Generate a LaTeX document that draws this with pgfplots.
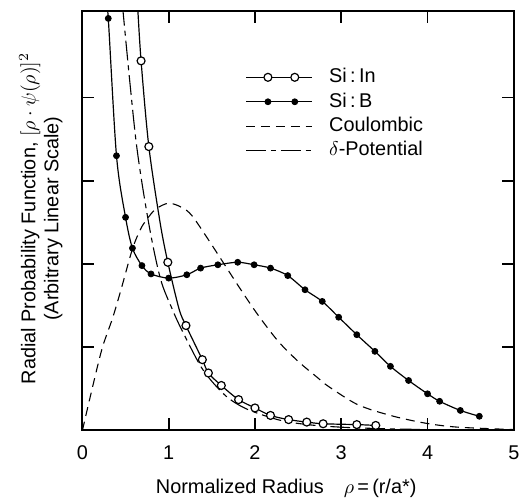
\documentclass[border=0pt]{standalone}
\usepackage{pgfplots}
\pgfplotsset{compat=1.18}
\usepackage{fontspec}
\setmainfont{Liberation Sans}

\pgfplotsset{
  markleg/.style={legend image code/.code={
    \draw[black, line width=0.6pt] (0pt,0pt) -- (33pt,0pt);
    \draw[##1, mark repeat=2, mark phase=2] plot coordinates {(0pt,0pt) (11pt,0pt) (17pt,0pt) (24.5pt,0pt) (33pt,0pt)};}},
  lineleg/.style={legend image code/.code={\draw[##1] (0pt,0pt) -- (33pt,0pt);}},
}

% rough readings
\pgfplotstableread{
x y
0.30 4.95
0.395 3.30
0.50 2.56
0.58 2.19
0.69 1.98
0.795 1.88
1.00 1.83
1.21 1.87
1.37 1.95
1.57 1.99
1.80 2.02
1.99 1.99
2.18 1.95
2.38 1.86
2.58 1.69
2.78 1.55
2.97 1.36
3.18 1.15
3.39 0.95
3.57 0.77
3.78 0.60
4.00 0.44
4.14 0.35
4.38 0.24
4.60 0.17
}\sib

\pgfplotstableread{
x y
0.68 4.44
0.77 3.41
0.99 2.02
1.20 1.26
1.39 0.85
1.46 0.69
1.61 0.54
1.81 0.37
2.00 0.27
2.18 0.18
2.39 0.13
2.60 0.10
2.79 0.08
3.18 0.07
3.40 0.06
}\siin

\begin{document}
\begin{tikzpicture}
\begin{axis}[
  scale only axis, width=217pt, height=211pt,
  xmin=0, xmax=5, ymin=0, ymax=5.04,
  xtick={0,1,2,3,4,5}, ytick={1,2,3,4}, yticklabels={},
  tick align=inside, major tick length=6pt,
  tick style={line width=0.9pt, black},
  axis line style={line width=1pt},
  /pgf/number format/assume math mode=true,
  ticklabel style={font=\fontsize{10}{12}\selectfont},
  xticklabel style={yshift=-4pt},
  xlabel={Normalized Radius\quad $\rho$\,=\,(r/a*)},
  xlabel style={font=\fontsize{10}{12}\selectfont, xshift=-6pt, yshift=-3pt},
  ylabel={Radial Probability Function, $[\rho\cdot\psi(\rho)]^{2}$\\(Arbitrary Linear Scale)},
  ylabel style={font=\fontsize{10}{11.5}\selectfont, align=center,
    at={(axis description cs:-0.03,0.505)}, anchor=south},
  legend style={draw=none, fill=none, inner sep=0pt, outer sep=0pt,
    at={(axis cs:1.89,4.37)}, anchor=north west,
    font=\fontsize{10}{12}\selectfont,
    nodes={inner sep=0.5pt, text height=7.5pt, text depth=2.2pt},
    row sep=1.6pt, column sep=8pt},
  legend cell align=left,
]
% Si:In
\addplot[forget plot, smooth, black, line width=0.6pt] coordinates {
  (0.64,5.10) (0.68,4.44) (0.77,3.41) (0.90,2.50) (0.99,2.02) (1.12,1.46)
  (1.20,1.26) (1.39,0.85) (1.46,0.69) (1.61,0.54) (1.81,0.37) (2.00,0.27)
  (2.18,0.18) (2.39,0.13) (2.60,0.10) (2.79,0.08) (3.18,0.07) (3.40,0.06)};
\addplot[only marks, mark=*, mark size=2pt,
  mark options={draw=black, fill=white, line width=0.6pt}, markleg] table {\siin};
\addlegendentry{Si\,:\,In}
% Si:B
\addplot[forget plot, smooth, black, line width=0.6pt] coordinates {
  (0.28,5.10) (0.30,4.95) (0.395,3.30) (0.50,2.56) (0.58,2.19) (0.69,1.98)
  (0.795,1.88) (1.00,1.83) (1.21,1.87) (1.37,1.95) (1.57,1.99) (1.80,2.02)
  (1.99,1.99) (2.18,1.95) (2.38,1.86) (2.58,1.69) (2.78,1.55) (2.97,1.36)
  (3.18,1.15) (3.39,0.95) (3.57,0.77) (3.78,0.60) (4.00,0.44) (4.14,0.35)
  (4.38,0.24) (4.60,0.17)};
\addplot[only marks, mark=*, mark size=1.5pt,
  mark options={draw=black, fill=black}, markleg] table {\sib};
\addlegendentry{Si\,:\,B}
% Coulombic
\addplot[smooth, black, line width=0.55pt, dash pattern=on 4.5pt off 3pt, lineleg] coordinates {
  (0,0) (0.115,0.51) (0.23,0.99) (0.35,1.35) (0.45,1.70) (0.58,2.18)
  (0.675,2.42) (0.75,2.54) (0.85,2.66) (1.00,2.73) (1.15,2.68) (1.27,2.58)
  (1.48,2.26) (1.83,1.70) (2.04,1.38) (2.27,1.07) (2.50,0.83) (2.73,0.63)
  (2.85,0.53) (3.19,0.31) (3.57,0.18) (3.96,0.09) (4.34,0.04) (5.00,0.01)};
\addlegendentry{Coulombic}
% delta potential
\addplot[smooth, black, line width=0.55pt,
  dash pattern=on 10pt off 2.5pt on 2.5pt off 2.5pt, lineleg] coordinates {
  (0.465,5.10) (0.62,3.49) (0.77,2.48) (0.905,1.82) (1.04,1.46) (1.15,1.21)
  (1.36,0.79) (1.50,0.59) (1.69,0.39) (1.92,0.25) (2.30,0.12) (2.70,0.06)
  (3.20,0.03) (4.00,0.01) (5.00,0.00)};
\addlegendentry{$\delta$-Potential}
\coordinate (bl) at (rel axis cs:-0.191,-0.168);
\coordinate (tr) at (rel axis cs:1.012,1.026);
\end{axis}
\pgfresetboundingbox
\path[use as bounding box] (bl) rectangle (tr);
\end{tikzpicture}
\end{document}
